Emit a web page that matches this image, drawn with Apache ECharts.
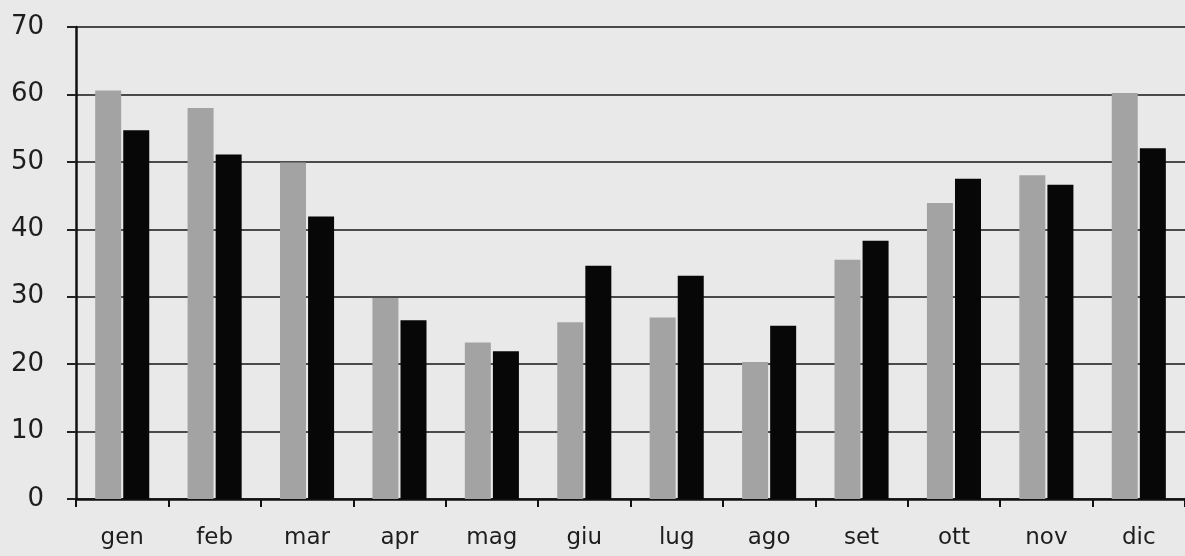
<!DOCTYPE html>
<html>
<head>
<meta charset="utf-8">
<script src="https://cdn.jsdelivr.net/npm/echarts@6/dist/echarts.min.js"></script>
<style>
html,body{margin:0;padding:0;background:#e9e9e9;}
#c{width:1185px;height:556px;}
</style>
</head>
<body>
<div id="c"></div>
<script>
const months = ['gen','feb','mar','apr','mag','giu','lug','ago','set','ott','nov','dic'];
const grayValues = [60.6, 58.0, 49.9, 29.8, 23.2, 26.2, 26.9, 20.3, 35.5, 43.9, 48.0, 60.2];
const blackValues = [54.7, 51.1, 41.9, 26.5, 21.9, 34.6, 33.1, 25.7, 38.3, 47.5, 46.6, 52.0];
const yTicks = [0, 10, 20, 30, 40, 50, 60, 70];

const chart = echarts.init(document.getElementById('c'), null, {renderer: 'canvas'});
chart.setOption({
  backgroundColor: '#e9e9e9',
  animation: false,
  grid: {left: 76, right: -11, top: 27, bottom: 57, containLabel: false},
  xAxis: {
    type: 'category',
    data: months,
    boundaryGap: true,
    axisLine: {show: true, lineStyle: {color: '#111', width: 2.5}},
    axisTick: {show: true, length: 8, lineStyle: {color: '#111', width: 2}},
    axisLabel: {color: '#1e1e1e', fontSize: 23, fontFamily: '"DejaVu Sans", sans-serif', margin: 28}
  },
  yAxis: {
    type: 'value',
    min: yTicks[0],
    max: yTicks[yTicks.length - 1],
    interval: 10,
    axisLine: {show: true, lineStyle: {color: '#111', width: 2.5}},
    axisTick: {show: true, length: 9, lineStyle: {color: '#222', width: 2}},
    axisLabel: {color: '#1e1e1e', fontSize: 26, fontFamily: '"DejaVu Sans", sans-serif', margin: 32},
    splitLine: {show: true, lineStyle: {color: '#4a4a4a', width: 2}}
  },
  series: [
    {
      type: 'bar',
      data: grayValues,
      barWidth: 26,
      barGap: '8%',
      itemStyle: {color: '#a3a3a3'}
    },
    {
      type: 'bar',
      data: blackValues,
      barWidth: 26,
      itemStyle: {color: '#070707'}
    }
  ]
});
</script>
</body>
</html>
